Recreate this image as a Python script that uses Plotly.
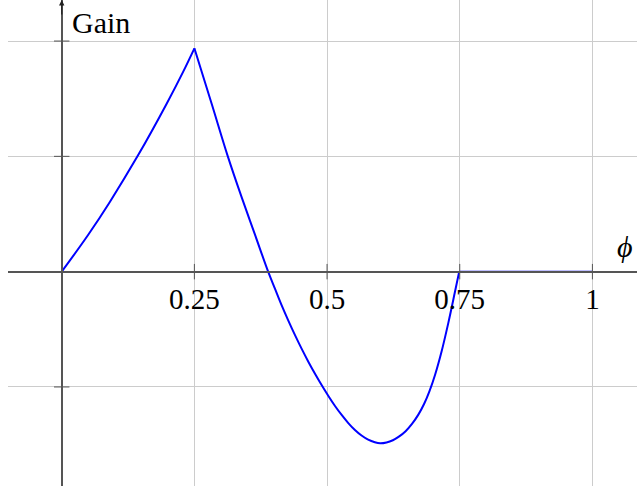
import plotly.graph_objects as go

# --- data ---
phi_rise = [0.0, 0.05, 0.091, 0.143, 0.198, 0.229, 0.25]
gain_rise = [0.0, 0.32, 0.607, 1.002, 1.459, 1.735, 1.937]

phi_fall = [0.25, 0.283, 0.313, 0.340, 0.364, 0.389, 0.402, 0.4145, 0.427, 0.4396,
            0.452, 0.4647, 0.477, 0.490, 0.5025, 0.515, 0.5275, 0.540, 0.5525,
            0.565, 0.5775, 0.590, 0.600, 0.612, 0.624, 0.636, 0.648, 0.660,
            0.672, 0.683, 0.693, 0.7034, 0.716, 0.7285, 0.741, 0.749]
gain_fall = [1.937, 1.45, 1.0, 0.633, 0.323, 0.0, -0.150, -0.293, -0.425, -0.551,
             -0.668, -0.781, -0.883, -0.985, -1.078, -1.165, -1.243, -1.313, -1.373,
             -1.421, -1.457, -1.479, -1.488, -1.481, -1.462, -1.429, -1.384, -1.321,
             -1.240, -1.146, -1.036, -0.896, -0.688, -0.444, -0.175, 0.0]

phi_flat = [0.75, 1.0]
gain_flat = [0.0, 0.0]

x_ticks = [0.25, 0.5, 0.75, 1]
x_tick_labels = ["0.25", "0.5", "0.75", "1"]
y_ticks = [-1, 1, 2]

x_label = "ϕ"
y_label = "Gain"

# --- figure ---
XMIN, XMAX = -0.1012, 1.084
YMIN, YMAX = -1.859, 2.356
FONT = "Liberation Serif"
AXIS_COLOR = "#555555"
GRID_COLOR = "#cccccc"
BLUE = "#0000ff"

fig = go.Figure()

for xs, ys, shape in [(phi_rise, gain_rise, "spline"),
                      (phi_fall, gain_fall, "spline"),
                      (phi_flat, gain_flat, "linear")]:
    fig.add_trace(go.Scatter(x=xs, y=ys, mode="lines",
                             line=dict(color=BLUE, width=2, shape=shape,
                                       smoothing=1.0, simplify=False),
                             hoverinfo="skip", showlegend=False))

# tick marks crossing the axes
fig.add_trace(go.Scatter(x=[0] * len(y_ticks), y=y_ticks, mode="markers",
                         marker=dict(symbol="line-ew", size=11,
                                     line=dict(color=AXIS_COLOR, width=1)),
                         hoverinfo="skip", showlegend=False))
fig.add_trace(go.Scatter(x=x_ticks, y=[0] * len(x_ticks), mode="markers",
                         marker=dict(symbol="line-ns", size=11,
                                     line=dict(color=AXIS_COLOR, width=1)),
                         hoverinfo="skip", showlegend=False))

x_pos = (0 - YMIN) / (YMAX - YMIN)
y_pos = (0 - XMIN) / (XMAX - XMIN)

fig.update_layout(
    width=637, height=486,
    margin=dict(l=8, r=0, t=0, b=0),
    paper_bgcolor="white", plot_bgcolor="white",
    font=dict(family=FONT, size=28, color="black"),
    xaxis=dict(range=[XMIN, XMAX], anchor="free", position=x_pos,
               tickvals=x_ticks, ticktext=x_tick_labels, ticks="",
               showgrid=True, gridcolor=GRID_COLOR, gridwidth=1,
               zeroline=False, showline=True, linecolor=AXIS_COLOR, linewidth=1.5,
               tickfont=dict(family=FONT, size=29, color="black"),
               ticklabelstandoff=2),
    yaxis=dict(range=[YMIN, YMAX], anchor="free", position=y_pos,
               tickvals=y_ticks, showticklabels=False, ticks="",
               showgrid=True, gridcolor=GRID_COLOR, gridwidth=1,
               zeroline=False, showline=True, linecolor=AXIS_COLOR, linewidth=1.5),
    annotations=[
        dict(x=0, y=YMAX, xref="x", yref="y", ax=0, ay=16, axref="pixel", ayref="pixel",
             text="", showarrow=True, arrowhead=2, arrowsize=0.9, arrowwidth=1.2,
             arrowcolor="#222222"),
        dict(x=(70 - 8) / 629, y=1 - 22 / 486, xref="paper", yref="paper",
             xanchor="left", yanchor="middle", text=y_label, showarrow=False,
             font=dict(family=FONT, size=30, color="black")),
        dict(x=(625 - 8) / 629, y=1 - 247 / 486, xref="paper", yref="paper",
             xanchor="center", yanchor="middle", text="<i>" + x_label + "</i>",
             showarrow=False, font=dict(family=FONT, size=30, color="black")),
    ],
)

fig.write_html("out.html")
